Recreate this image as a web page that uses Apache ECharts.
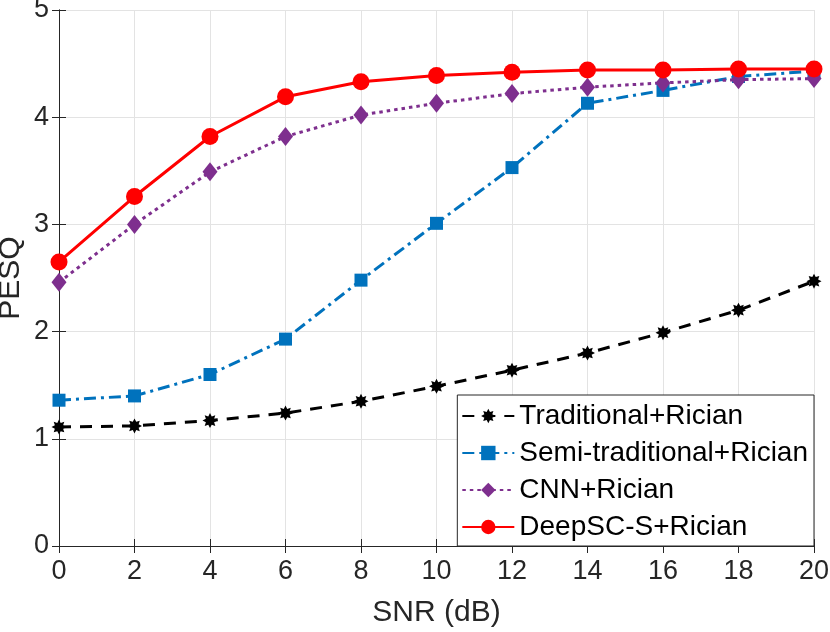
<!DOCTYPE html>
<html>
<head>
<meta charset="utf-8">
<script src="https://cdn.jsdelivr.net/npm/echarts@6/dist/echarts.min.js"></script>
<style>
  html, body { margin: 0; padding: 0; background: #fff; }
  #main { width: 830px; height: 632px; }
</style>
</head>
<body>
<div id="main"></div>
<script>
// SNR 点 (dB)
const snr = [0, 2, 4, 6, 8, 10, 12, 14, 16, 18, 20];
// 各方案 PESQ
const traditional = [1.11, 1.12, 1.17, 1.24, 1.35, 1.49, 1.64, 1.80, 1.99, 2.20, 2.47];
const semiTraditional = [1.36, 1.40, 1.60, 1.93, 2.48, 3.01, 3.53, 4.13, 4.25, 4.38, 4.43];
const cnn = [2.46, 3.00, 3.49, 3.82, 4.02, 4.13, 4.22, 4.28, 4.32, 4.35, 4.36];
const deepsc = [2.65, 3.26, 3.82, 4.19, 4.33, 4.39, 4.42, 4.44, 4.44, 4.45, 4.45];
const seriesNames = ['Traditional+Rician', 'Semi-traditional+Rician', 'CNN+Rician', 'DeepSC-S+Rician'];

// 星号标记 (MATLAB '*')
const asterisk = 'path://M10 0 L5.5 2.3 L7.07 7.07 L2.3 5.5 L0 10 L-2.3 5.5 L-7.07 7.07 L-5.5 2.3 L-10 0 L-5.5 -2.3 L-7.07 -7.07 L-2.3 -5.5 L0 -10 L2.3 -5.5 L7.07 -7.07 L5.5 -2.3 Z';

const font = '"Liberation Sans", Arial, Helvetica, sans-serif';
const axisColor = '#262626';

function pairs(ys) {
  return snr.map((x, i) => [x, ys[i]]);
}

function makeSeries(name, ys, color, dash, symbol, size) {
  return {
    name: name,
    type: 'line',
    data: pairs(ys),
    symbol: symbol,
    symbolSize: size,
    showAllSymbol: true,
    lineStyle: { color: color, width: 3, type: dash, cap: 'butt' },
    itemStyle: { color: color, borderWidth: 0 },
    emphasis: { disabled: true },
    animation: false,
    z: 3
  };
}

const chart = echarts.init(document.getElementById('main'));

chart.setOption({
  backgroundColor: '#fff',
  animation: false,
  grid: { left: 59, right: 16, top: 10, bottom: 86, containLabel: false, outerBoundsMode: 'none' },
  legend: {
    orient: 'vertical',
    right: 16,
    bottom: 86,
    align: 'left',
    data: seriesNames,
    backgroundColor: '#fff',
    borderColor: axisColor,
    borderWidth: 1,
    borderRadius: 0,
    padding: [6, 6, 4, 4],
    itemWidth: 52,
    itemHeight: 18,
    itemGap: 7,
    textStyle: { fontFamily: font, fontSize: 28, color: '#000', lineHeight: 30 },
    z: 10
  },
  xAxis: [{
    type: 'value',
    min: 0,
    max: 20,
    interval: 2,
    name: 'SNR (dB)',
    nameLocation: 'middle',
    nameGap: 52,
    nameMoveOverlap: false,
    nameTextStyle: { fontFamily: font, fontSize: 30, color: axisColor },
    axisLine: { show: true, lineStyle: { color: axisColor, width: 1 } },
    axisTick: { show: true, inside: true, length: 7, lineStyle: { color: axisColor } },
    axisLabel: { fontFamily: font, fontSize: 27, color: axisColor, margin: 12 },
    splitLine: { show: true, lineStyle: { color: '#e3e3e3', width: 1 } }
  }, {
    type: 'value',
    position: 'top',
    min: 0,
    max: 20,
    interval: 2,
    axisLine: { show: true, lineStyle: { color: axisColor, width: 1 } },
    axisTick: { show: true, inside: true, length: 7, lineStyle: { color: axisColor } },
    axisLabel: { show: false },
    splitLine: { show: false }
  }],
  yAxis: [{
    type: 'value',
    min: 0,
    max: 5,
    interval: 1,
    name: 'PESQ',
    nameLocation: 'middle',
    nameGap: 33,
    nameMoveOverlap: false,
    nameTextStyle: { fontFamily: font, fontSize: 30, color: axisColor },
    axisLine: { show: true, lineStyle: { color: axisColor, width: 1 } },
    axisTick: { show: true, inside: true, length: 7, lineStyle: { color: axisColor } },
    axisLabel: { fontFamily: font, fontSize: 27, color: axisColor, margin: 10 },
    splitLine: { show: true, lineStyle: { color: '#e3e3e3', width: 1 } }
  }, {
    type: 'value',
    position: 'right',
    min: 0,
    max: 5,
    interval: 1,
    axisLine: { show: true, lineStyle: { color: axisColor, width: 1 } },
    axisTick: { show: true, inside: true, length: 7, lineStyle: { color: axisColor } },
    axisLabel: { show: false },
    splitLine: { show: false }
  }],
  series: [
    makeSeries(seriesNames[0], traditional, '#000000', [12, 9], asterisk, 15),
    makeSeries(seriesNames[1], semiTraditional, '#0072BD', [12, 5, 3, 5], 'rect', 13),
    makeSeries(seriesNames[2], cnn, '#7E2F8E', [3.5, 4], 'diamond', [15, 19]),
    makeSeries(seriesNames[3], deepsc, '#FF0000', 'solid', 'circle', 17)
  ]
});
</script>
</body>
</html>
